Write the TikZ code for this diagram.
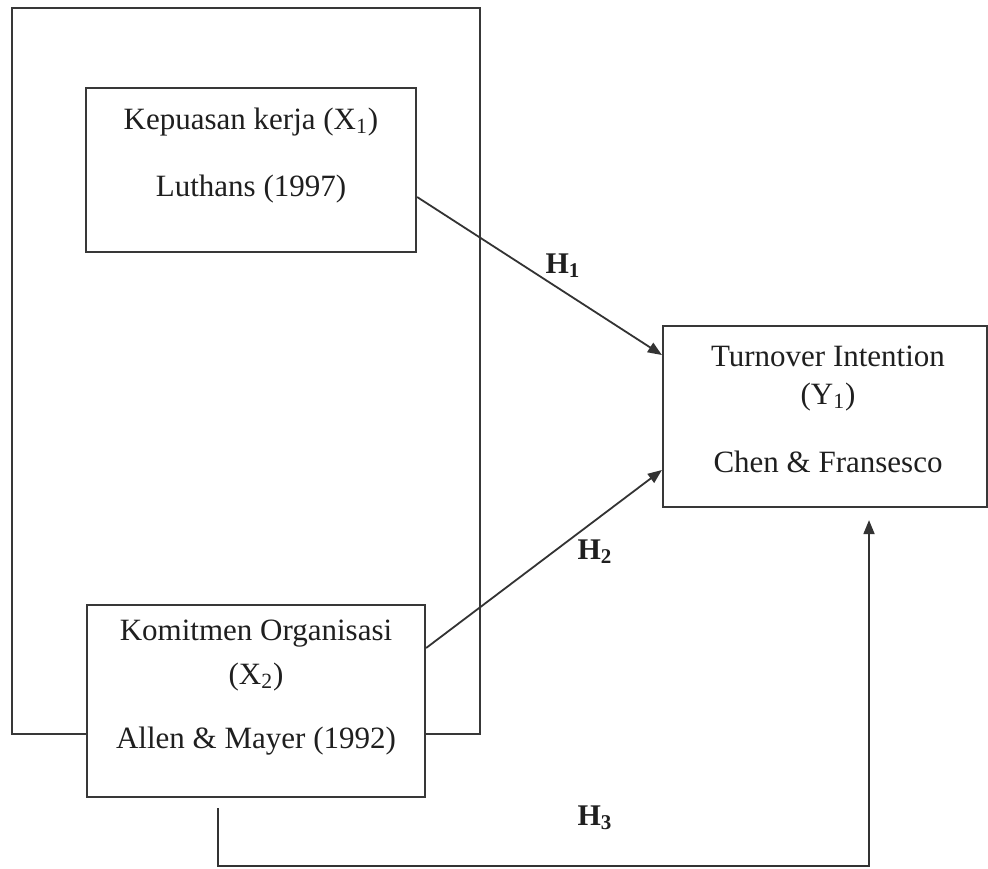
\documentclass[tikz,border=0pt]{standalone}
\usepackage{fontspec}
\setmainfont{Liberation Serif}
\usetikzlibrary{arrows.meta,calc}
\begin{document}
\begin{tikzpicture}[x=0.5pt,y=-0.5pt,
  boxline/.style={draw=black!78, line width=1.1pt},
  varbox/.style={boxline, fill=white, inner sep=0pt},
  txt/.style={font=\fontsize{15.5}{18}\selectfont, text=black!88, inner sep=0pt},
  hlab/.style={font=\fontsize{15}{18}\selectfont\bfseries, text=black!88, inner sep=0pt},
  arr/.style={draw=black!80, line width=0.9pt, -{Triangle[length=7pt,width=5.5pt]}}]
\useasboundingbox[fill=white] (0,0) rectangle (988,868);
% outer frame
\node[boxline, minimum width=234pt, minimum height=363pt, inner sep=0pt] (outer) at (246,371) {};
% boxes
\node[varbox, minimum width=165pt, minimum height=82pt] (x1) at (251,170) {};
\node[varbox, minimum width=169pt, minimum height=96pt] (x2) at (256,701) {};
\node[varbox, minimum width=162pt, minimum height=90.5pt] (y) at (825,416.5) {};
% texts
\node[txt] (x1a) at (251,122) {Kepuasan kerja (X\textsubscript{1})};
\node[txt] (x1b) at (251,189) {Luthans (1997)};
\node[txt] (x2a) at (256,634) {Komitmen Organisasi};
\node[txt] (x2b) at (256,677) {(X\textsubscript{2})};
\node[txt] (x2c) at (256,741) {Allen \& Mayer (1992)};
\node[txt] (ya) at (828,356) {Turnover Intention};
\node[txt] (yb) at (828,397) {(Y\textsubscript{1})};
\node[txt] (yc) at (828,462) {Chen \& Fransesco};
% connectors
\draw[arr] ([yshift=-13.5pt]x1.east) -- ([yshift=30.75pt]y.west);
\draw[arr] ([yshift=26.5pt]x2.east) -- ([yshift=-26.75pt]y.west);
\coordinate (h3c) at (543,866);
\draw[arr, shorten <=5pt, shorten >=6pt] ([xshift=-19pt]x2.south) |- (h3c) -| ([xshift=22pt]y.south);
% labels
\node[hlab] (h1) at (563,266) {H\textsubscript{1}};
\node[hlab] (h2) at (595,552) {H\textsubscript{2}};
\node[hlab] (h3) at (595,818) {H\textsubscript{3}};
\end{tikzpicture}
\end{document}
